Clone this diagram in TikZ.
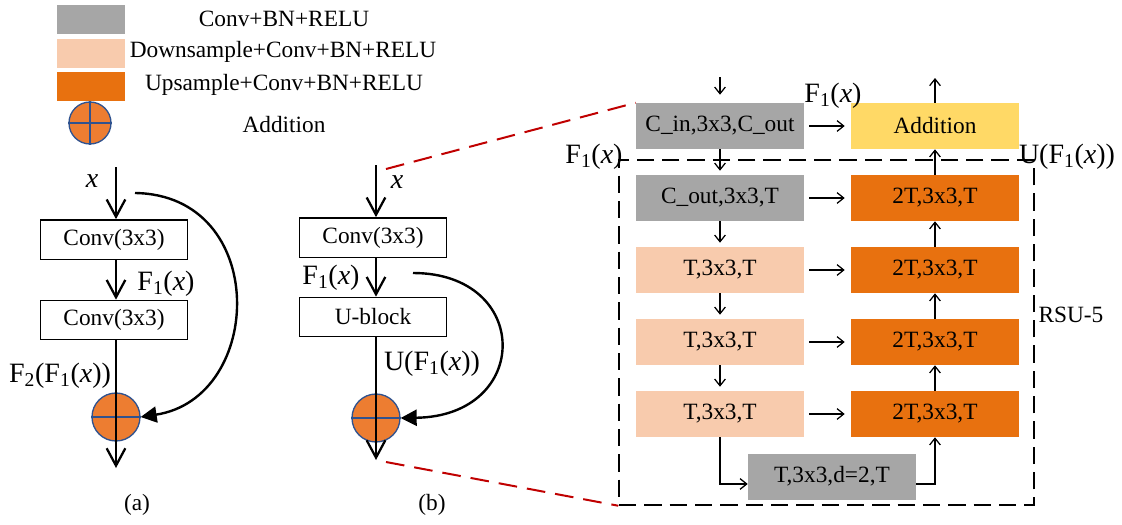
\documentclass[tikz,border=0pt]{standalone}
\usepackage{fontspec}
\setmainfont{Liberation Serif}
\usetikzlibrary{arrows.meta}
\definecolor{cgray}{HTML}{A6A6A6}
\definecolor{cpeach}{HTML}{F8CBAD}
\definecolor{corange}{HTML}{E8710F}
\definecolor{cyellow}{HTML}{FFD966}
\definecolor{caddfill}{HTML}{ED7D31}
\definecolor{caddline}{HTML}{2F528F}
\definecolor{cred}{HTML}{C00000}
\newcommand{\myx}{\textit{x}}
\newcommand{\Fone}{F\textsubscript{1}}
\begin{document}
\begin{tikzpicture}[x=0.75pt,y=-0.75pt,
  txt/.style={font=\fontsize{17.5pt}{20pt}\selectfont, inner sep=0pt},
  mth/.style={font=\fontsize{21pt}{24pt}\selectfont, inner sep=0pt},
  wbox/.style={draw, line width=1pt, fill=white, minimum width=110.25pt, minimum height=29.5pt, inner sep=0pt, font=\fontsize{17.5pt}{20pt}\selectfont},
  cbox/.style={minimum width=126pt, minimum height=34.5pt, inner sep=0pt, font=\fontsize{17.5pt}{20pt}\selectfont},
  legbox/.style={minimum width=51pt, minimum height=21.75pt, inner sep=0pt},
  addc/.style={circle, fill=caddfill, draw=caddline, line width=1pt, inner sep=0pt},
  mainarr/.style={line width=1.7pt, -{Straight Barb[length=13pt,width=14pt]}},
  arcarr/.style={line width=1.8pt, -{Triangle[length=12pt,width=12pt]}},
  thinarr/.style={line width=0.95pt, -{Straight Barb[length=5pt,width=8pt]}},
  reddash/.style={draw=cred, line width=1.5pt, dash pattern=on 14pt off 7.5pt},
  blkdash/.style={draw=black, line width=1.1pt, dash pattern=on 13pt off 6pt}
]
\useasboundingbox (0,0) rectangle (1122,525);

% ---------- legend ----------
\node[legbox, fill=cgray]   (lg1) at (91,19.5) {};
\node[legbox, fill=cpeach]  (lg2) at (91,53.5) {};
\node[legbox, fill=corange] (lg3) at (91,86.5) {};
\node[addc, minimum size=31.5pt] (lg4) at (90,123) {};
\draw[caddline, line width=1pt] (lg4.west) -- (lg4.east) (lg4.north) -- (lg4.south);
\node[txt] (lt1) at (284,19) {Conv+BN+RELU};
\node[txt] (lt2) at (283,52) {Downsample+Conv+BN+RELU};
\node[txt] (lt3) at (284,85) {Upsample+Conv+BN+RELU};
\node[txt] (lt4) at (284,125) {Addition};

% ---------- (a) ----------
\coordinate (atop) at (116,167);
\coordinate (abot) at (116,468);
\coordinate (aarc) at (135,193);
\node[wbox] (a1) at (114,239.5) {Conv(3x3)};
\node[wbox] (a2) at (114,320) {Conv(3x3)};
\node[addc, minimum size=36pt] (ac) at (116,417) {};
\draw[caddline, line width=1pt] (ac.west) -- (ac.east);
\draw[mainarr] (atop) -- (atop |- a1.north);
\draw[mainarr] (a1.south -| atop) -- (atop |- a2.north);
\draw[mainarr] (a2.south -| atop) -- (abot);
\draw[arcarr] (aarc) .. controls (270,195) and (265,398) .. (ac.east);
\node[mth] (ax) at (92,181) {\myx};
\node[mth] (af1) at (166,284) {\Fone(\myx)};
\node[mth] (af2) at (60,376) {F\textsubscript{2}(\Fone(\myx))};
\node[txt] (alab) at (137,505) {(a)};

% ---------- (b) ----------
\coordinate (btop) at (376,165);
\coordinate (bbot) at (376,460);
\coordinate (barc) at (413,273);
\node[wbox] (b1) at (373,237.5) {Conv(3x3)};
\node[wbox] (b2) at (373,317) {U-block};
\node[addc, minimum size=36pt] (bc) at (376,418) {};
\draw[caddline, line width=1pt] (bc.west) -- (bc.east);
\draw[mainarr] (btop) -- (btop |- b1.north);
\draw[mainarr] (b1.south -| btop) -- (btop |- b2.north);
\draw[mainarr] (b2.south -| btop) -- (bbot);
\draw[arcarr] (barc) .. controls (532,273) and (532,416) .. (bc.east);
\node[mth] (bx) at (397,182) {\myx};
\node[mth] (bf1) at (331,278) {\Fone(\myx)};
\node[mth] (bu) at (432,364) {U(\Fone(\myx))};
\node[txt] (blab) at (432,505) {(b)};

% ---------- RSU-5 ----------
\node[cbox, fill=cgray]   (L0) at (720,126) {C\_in,3x3,C\_out};
\node[cbox, fill=cgray]   (L1) at (720,198) {C\_out,3x3,T};
\node[cbox, fill=cpeach]  (L2) at (720,270) {T,3x3,T};
\node[cbox, fill=cpeach]  (L3) at (720,342) {T,3x3,T};
\node[cbox, fill=cpeach]  (L4) at (720,414) {T,3x3,T};
\node[cbox, fill=cyellow] (R0) at (935,126) {Addition};
\node[cbox, fill=corange] (R1) at (935,198) {2T,3x3,T};
\node[cbox, fill=corange] (R2) at (935,270) {2T,3x3,T};
\node[cbox, fill=corange] (R3) at (935,342) {2T,3x3,T};
\node[cbox, fill=corange] (R4) at (935,414) {2T,3x3,T};
\node[cbox, fill=cgray]   (BG) at (832,476.5) {T,3x3,d=2,T};

\node[blkdash, minimum width=311.25pt, minimum height=258.75pt, inner sep=0pt] (dbox) at (826.5,332.5) {};

\coordinate (Lin) at (720,77);
\coordinate (Rout) at (935,78);
\draw[thinarr, shorten >=6pt] (Lin) -- (L0.north);
\draw[thinarr, shorten >=3pt] (L0) -- (L1);
\draw[thinarr, shorten >=3pt, shorten <=-0pt] (L1.south) -- (L2.north);
\draw[thinarr, shorten >=3pt] (L2.south) -- (L3.north);
\draw[thinarr, shorten >=3pt] (L3.south) -- (L4.north);
\foreach \i in {0,...,4}{
  \draw[thinarr, shorten <=3.75pt, shorten >=4.5pt] (L\i.east) -- (R\i.west);
}
\draw[thinarr] (R4.north) -- (R3.south);
\draw[thinarr] (R3.north) -- (R2.south);
\draw[thinarr] (R2.north) -- (R1.south);
\draw[thinarr] (R1.north) -- (R0.south);
\draw[thinarr] (R0.north) -- (Rout);
\draw[thinarr] (L4.south) |- ([yshift=-5.6pt]BG.west);
\draw[thinarr] ([yshift=-5.6pt]BG.east) -| (R4.south);

\node[mth] (rf1a) at (833,96) {\Fone(\myx)};
\node[mth] (rf1b) at (594,157) {\Fone(\myx)};
\node[mth] (ru) at (1067,157) {U(\Fone(\myx))};
\node[txt] (rsu) at (1071,315) {RSU-5};

% ---------- zoom lines ----------
\coordinate (zt) at (386,169);
\coordinate (zb) at (386,462);
\draw[reddash] (zt) -- (L0.north west);
\draw[reddash] (zb) -- (dbox.south west);
\end{tikzpicture}
\end{document}
